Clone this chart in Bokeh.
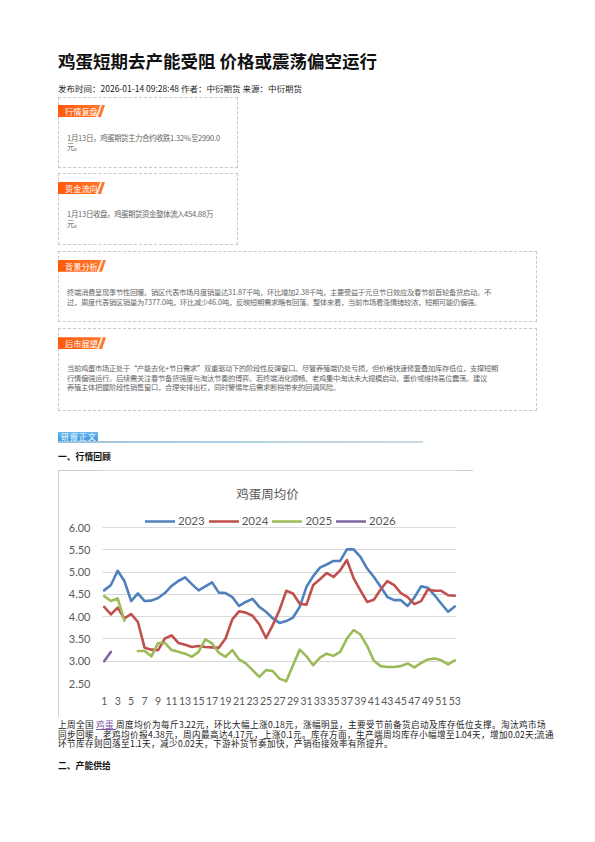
from bokeh.plotting import figure
from bokeh.models import (Div, Legend, LegendItem, FixedTicker, NumeralTickFormatter, Range1d, Label,
                          GlobalInlineStyleSheet)
from bokeh.layouts import column
from bokeh.embed import file_html
from bokeh.resources import INLINE
import numpy as np

# ---------------- data ----------------
weeks = list(range(1, 54))
price_2023 = [4.59, 4.71, 5.03, 4.80, 4.35, 4.52, 4.35, 4.36, 4.42, 4.53,
              4.69, 4.80, 4.88, 4.73, 4.59, 4.68, 4.77, 4.54, 4.53, 4.44,
              4.24, 4.33, 4.40, 4.22, 4.11, 3.96, 3.86, 3.90, 3.98, 4.22,
              4.67, 4.91, 5.10, 5.17, 5.25, 5.25, 5.51, 5.51, 5.34, 5.08,
              4.89, 4.67, 4.44, 4.37, 4.37, 4.24, 4.43, 4.68, 4.65, 4.48,
              4.29, 4.11, 4.23]
price_2024 = [4.22, 4.05, 4.20, 3.96, 4.06, 3.88, 3.30, 3.26, 3.25, 3.51,
              3.58, 3.41, 3.37, 3.32, 3.34, 3.32, 3.31, 3.30, 3.51, 3.94,
              4.12, 4.09, 4.02, 3.83, 3.52, 3.81, 4.15, 4.58, 4.52, 4.29,
              4.27, 4.71, 4.84, 4.98, 4.89, 5.04, 5.27, 4.86, 4.59, 4.33,
              4.38, 4.61, 4.80, 4.71, 4.53, 4.44, 4.28, 4.35, 4.61, 4.58,
              4.58, 4.48, 4.47]
price_2025 = [4.46, 4.35, 4.41, 3.91, None, 3.23, 3.23, 3.11, 3.41, 3.41,
              3.25, 3.21, 3.17, 3.10, 3.21, 3.49, 3.40, 3.19, 3.10, 3.25,
              3.04, 2.95, 2.80, 2.65, 2.80, 2.78, 2.61, 2.55, 2.91, 3.26,
              3.11, 2.91, 3.08, 3.17, 3.12, 3.21, 3.51, 3.70, 3.60, 3.34,
              3.01, 2.89, 2.87, 2.87, 2.89, 2.95, 2.86, 2.96, 3.04, 3.06,
              3.02, 2.93, 3.02]
price_2026 = [3.00, 3.21]
series_names = ["2023", "2024", "2025", "2026"]
series_colors = ["#4f81bd", "#c0504d", "#9bbb59", "#8064a2"]
y_ticks = [2.5, 3.0, 3.5, 4.0, 4.5, 5.0, 5.5, 6.0]
x_ticks = list(range(1, 54, 2))
chart_title = "鸡蛋周均价"

page_title = "鸡蛋短期去产能受阻 价格或震荡偏空运行"
meta_line = "发布时间：2026-01-14 09:28:48 作者：中衍期货 来源：中衍期货"
box1_tab = "行情复盘"
box1_lines = ["1月13日，鸡蛋期货主力合约收跌1.32%至2990.0", "元。"]
box2_tab = "资金流向"
box2_lines = ["1月13日收盘，鸡蛋期货资金整体流入454.88万", "元。"]
box3_tab = "背景分析"
box3_lines = ["终端消费呈现季节性回暖。销区代表市场月度销量达31.87千吨，环比增加2.38千吨，主要受益于元旦节日效应及春节前首轮备货启动。不",
              "过，周度代表销区销量为7377.0吨，环比减少46.0吨，反映短期需求略有回落。整体来看，当前市场看涨情绪较浓，短期可能仍偏强。"]
box4_tab = "后市展望"
box4_lines = ["当前鸡蛋市场正处于“产能去化+节日需求”双重驱动下的阶段性反弹窗口。尽管养殖端仍处亏损，但价格快速修复叠加库存低位，支撑短期",
              "行情偏强运行。后续需关注春节备货强度与淘汰节奏的博弈。若终端消化顺畅、老鸡集中淘汰未大规模启动，蛋价或维持高位震荡。建议",
              "养殖主体把握阶段性销售窗口，合理安排出栏，同时警惕年后需求断档带来的回调风险。"]
section_tab = "研报正文"
section1 = "一、行情回顾"
section2 = "二、产能供给"
body_lines = ["上周全国 <a style=\"color:#7b4fa8;text-decoration:underline\">鸡蛋 </a>周度均价为每斤3.22元，环比大幅上涨0.18元，涨幅明显，主要受节前备货启动及库存低位支撑。淘汰鸡市场",
              "同步回暖，老鸡均价报4.38元，周内最高达4.17元，上涨0.1元。库存方面，生产端周均库存小幅增至1.04天，增加0.02天;流通",
              "环节库存则回落至1.1天，减少0.02天，下游补货节奏加快，产销衔接效率有所提升。"]

CJK = "'Noto Sans CJK SC', 'Noto Sans', sans-serif"
TIGHT = "'CJKTight', 'Noto Sans CJK SC', 'Noto Sans', sans-serif"

font_css = GlobalInlineStyleSheet(css=(
    "@font-face { font-family: 'CJKTight'; "
    "src: local('Noto Sans CJK SC Regular'), local('NotoSansCJKsc-Regular'), local('Noto Sans CJK SC'); "
    "ascent-override: 88%; descent-override: 12%; line-gap-override: 0%; }"))


def tab(left, top, w, h, text, fs):
    return (f'<div style="position:absolute;left:{left}px;top:{top}px;width:{w}px;height:{h}px;'
            f'background:linear-gradient(to right,#ff5a0a,#ff7a30);'
            f'clip-path:polygon(0 0,100% 0,calc(100% - 4px) 100%,0 100%);"></div>'
            f'<div style="position:absolute;left:{left + w - 7}px;top:{top}px;width:1.5px;height:{h}px;'
            f'background:#fff;opacity:0.85;transform:skewX(-20deg);"></div>'
            f'<div style="position:absolute;left:{left + 7}px;top:{top}px;height:{h}px;line-height:{h}px;'
            f'font-size:{fs}px;color:#fff;white-space:nowrap;">{text}</div>')


def box(left, top, w, h):
    return (f'<div style="position:absolute;left:{left}px;top:{top}px;width:{w}px;height:{h}px;'
            f'box-sizing:border-box;border:1px dashed #c8c8c8;"></div>')


def lines(left, top, lh, fs, rows, color="#666"):
    out = ""
    for i, row in enumerate(rows):
        out += (f'<div style="position:absolute;left:{left}px;top:{top + i * lh:.2f}px;line-height:{lh}px;'
                f'height:{lh}px;font-size:{fs}px;color:{color};white-space:nowrap;font-family:{TIGHT};">'
                f'{row}</div>')
    return out


top_html = (
    f'<div style="position:relative;width:595px;height:470px;font-family:{CJK};">'
    f'<div style="position:absolute;left:58px;top:51px;font-size:17.5px;font-weight:bold;color:#111;'
    f'line-height:20px;white-space:nowrap">{page_title}</div>'
    f'<div style="position:absolute;left:58px;top:83px;font-size:8.5px;color:#222;line-height:11px;'
    f'white-space:nowrap">{meta_line}</div>'
    + box(58, 96.7, 180, 71.3) + tab(58, 105, 47, 12, box1_tab, 8.2)
    + lines(67.3, 133.5, 9, 7.5, box1_lines)
    + box(58, 173.3, 180, 71.7) + tab(58, 182, 47, 12, box2_tab, 8.2)
    + lines(67.3, 210.3, 9.3, 7.5, box2_lines)
    + box(58, 250.7, 479, 71) + tab(58, 259.7, 48, 12, box3_tab, 8.2)
    + lines(67.3, 288, 9.6, 7.3, box3_lines)
    + box(58, 328, 479, 83) + tab(58, 337.3, 48, 12, box4_tab, 8.2)
    + lines(67.3, 364.3, 9.5, 7.3, box4_lines)
    + f'<div style="position:absolute;left:58px;top:431.7px;width:40px;height:9.5px;'
      f'background:linear-gradient(to bottom,#6cb8ef,#3d9be0);"></div>'
    + f'<div style="position:absolute;left:61px;top:431.7px;height:9.5px;line-height:9.5px;font-size:7.8px;'
      f'color:#fff;white-space:nowrap;letter-spacing:1.2px">{section_tab}</div>'
    + f'<div style="position:absolute;left:58px;top:440.7px;width:365px;height:2px;'
      f'background:linear-gradient(to right,#9fc4de,#c9dbe8);"></div>'
    + f'<div style="position:absolute;left:58px;top:451px;font-size:8.8px;font-weight:bold;color:#111;'
      f'line-height:11px;white-space:nowrap">{section1}</div>'
    + '</div>'
)

bottom_html = (
    f'<div style="position:relative;width:595px;height:100px;font-family:{CJK};">'
    + lines(58, 3.3, 9.35, 8.6, body_lines, color="#222")
    + f'<div style="position:absolute;left:58px;top:43px;font-size:8.8px;font-weight:bold;color:#111;'
      f'line-height:11px;white-space:nowrap">{section2}</div>'
    + '</div>'
)

top_div = Div(text=top_html, width=595, height=470, margin=0, stylesheets=[font_css])
bottom_div = Div(text=bottom_html, width=595, height=100, margin=0, stylesheets=[font_css])

# ---------------- chart ----------------
# frame extends up to the canvas top so the title and legend (drawn inside it) are not clipped
p = figure(width=415, height=247, x_range=Range1d(0.75, 53.25), y_range=Range1d(2.5, 7.28),
           output_backend="svg", toolbar_location=None,
           min_border_left=44, min_border_right=17, min_border_top=0, min_border_bottom=34,
           margin=(0, 0, 0, 58),
           styles={"outline": "1.5px solid #bfbfbf", "outline-offset": "-1.5px"})
p.outline_line_color = None
p.background_fill_color = "#ffffff"
p.border_fill_color = "#ffffff"

series = [price_2023, price_2024, price_2025, price_2026]
renderers = []
for name, vals, col in zip(series_names, series, series_colors):
    ys = np.array([np.nan if v is None else v for v in vals], dtype=float)
    xs = np.array(weeks[:len(vals)], dtype=float)
    r = p.line(xs, ys, line_color=col, line_width=2.6, line_join="round", line_cap="round")
    renderers.append(r)

AX_FONT = "Lato"
p.xaxis.ticker = FixedTicker(ticks=x_ticks)
p.xaxis.axis_line_color = None
p.xaxis.major_tick_line_color = None
p.xaxis.minor_tick_line_color = None
p.xaxis.major_label_standoff = 7
p.xaxis.major_label_text_font = AX_FONT
p.xaxis.major_label_text_font_size = "10.5px"
p.xaxis.major_label_text_color = "#595959"

p.yaxis.ticker = FixedTicker(ticks=y_ticks)
p.yaxis.formatter = NumeralTickFormatter(format="0.00")
p.yaxis.axis_line_color = None
p.yaxis.major_tick_line_color = None
p.yaxis.minor_tick_line_color = None
p.yaxis.major_label_standoff = 6
p.yaxis.major_label_text_font = AX_FONT
p.yaxis.major_label_text_font_size = "11px"
p.yaxis.major_label_text_color = "#595959"

p.xgrid.visible = False
p.ygrid.ticker = FixedTicker(ticks=y_ticks)
p.ygrid.grid_line_color = "#d9d9d9"
p.ygrid.grid_line_width = 1

legend = Legend(items=[LegendItem(label=n, renderers=[r]) for n, r in zip(series_names, renderers)],
                orientation="horizontal", location=(43, 156),
                glyph_width=30, glyph_height=12, label_standoff=3, spacing=4,
                padding=0, margin=0, border_line_alpha=0, background_fill_alpha=0,
                label_text_font=AX_FONT, label_text_font_size="11.5px",
                label_text_color="#595959", label_height=12)
p.add_layout(legend)

p.add_layout(Label(x=165, y=190.5, x_units="screen", y_units="screen", text=chart_title,
                   text_align="center", text_baseline="middle",
                   text_font="Noto Sans CJK SC", text_font_size="12.5px",
                   text_color="#595959"))

layout = column(top_div, p, bottom_div, spacing=0)

open("out.html", "w").write(file_html(layout, INLINE))
